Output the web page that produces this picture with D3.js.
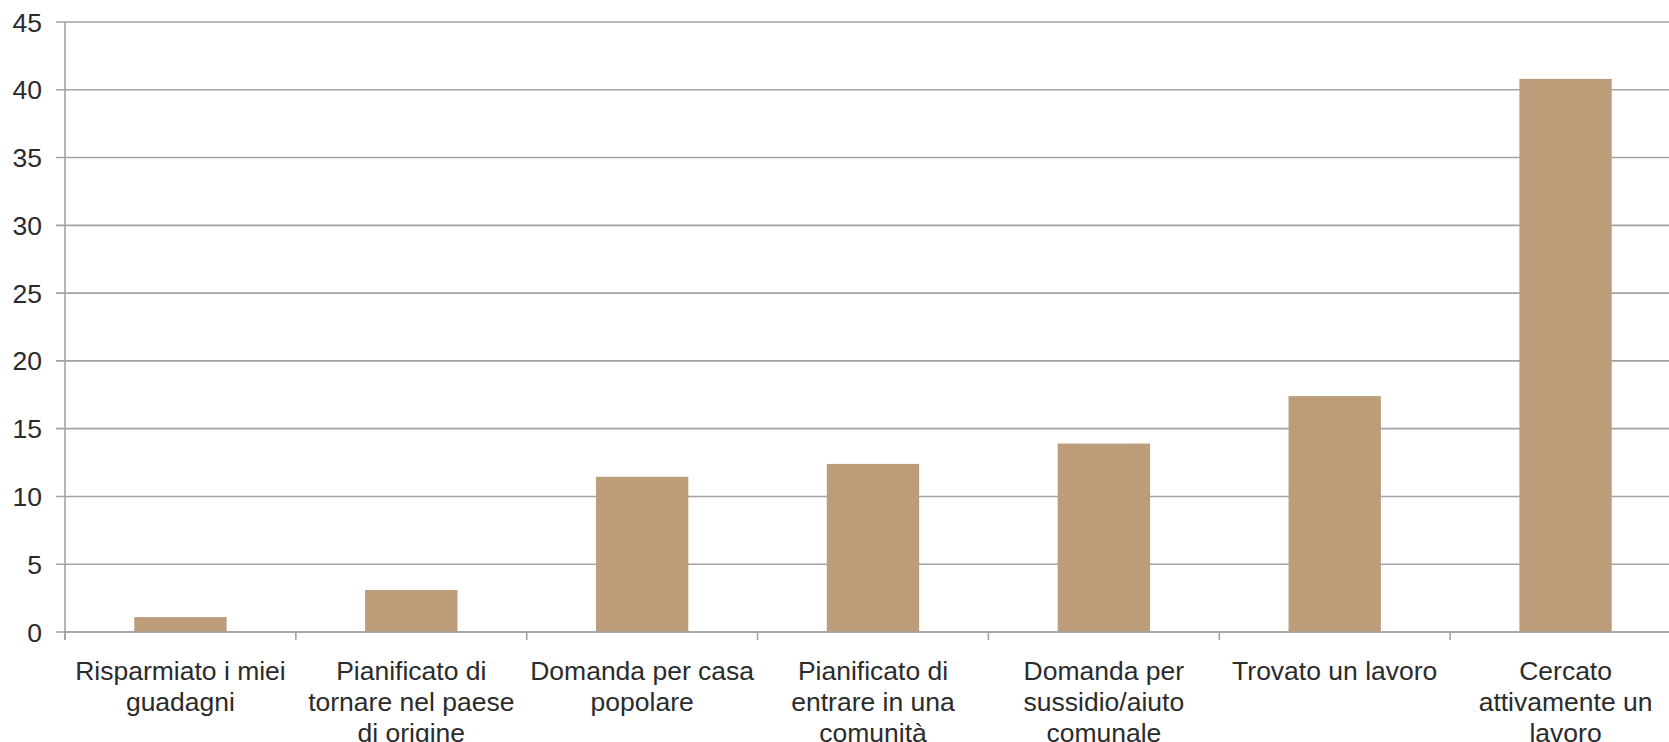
<!DOCTYPE html>
<html>
<head>
<meta charset="utf-8">
<script src="https://cdn.jsdelivr.net/npm/d3@7"></script>
<style>
  html, body { margin: 0; padding: 0; background: #fff; overflow: hidden; }
  svg { display: block; }
  text { font-family: "Liberation Sans", Arial, sans-serif; fill: #2b2b2b; }
</style>
</head>
<body>
<svg id="chart" width="1669" height="742"></svg>
<script>
const categories = [
  "Risparmiato i miei\nguadagni",
  "Pianificato di\ntornare nel paese\ndi origine",
  "Domanda per casa\npopolare",
  "Pianificato di\nentrare in una\ncomunità",
  "Domanda per\nsussidio/aiuto\ncomunale",
  "Trovato un lavoro",
  "Cercato\nattivamente un\nlavoro"
];
const values = [1.1, 3.1, 11.45, 12.4, 13.9, 17.4, 40.8];
const yTicks = [0, 5, 10, 15, 20, 25, 30, 35, 40, 45];

const svg = d3.select("#chart");
const plotLeft = 65, plotRight = 1681, plotTop = 22, plotBottom = 632;
const barColor = "#bc9c79";
const gridColor = "#a3a3a3";
const fontSize = 26.5;

const x = d3.scaleBand().domain(d3.range(categories.length))
  .range([plotLeft, plotRight]).paddingInner(0.6).paddingOuter(0.3);
const y = d3.scaleLinear().domain([0, 45]).range([plotBottom, plotTop]);

// gridlines
svg.append("g").selectAll("line").data(yTicks).join("line")
  .attr("x1", plotLeft - 9).attr("x2", plotRight)
  .attr("y1", d => y(d)).attr("y2", d => y(d))
  .attr("stroke", gridColor).attr("stroke-width", 1.6);

// y axis line
svg.append("line").attr("x1", plotLeft).attr("x2", plotLeft)
  .attr("y1", y(45)).attr("y2", y(0) + 8)
  .attr("stroke", gridColor).attr("stroke-width", 1.6);

// y tick labels
svg.append("g").selectAll("text").data(yTicks).join("text")
  .attr("x", 42).attr("y", d => y(d))
  .attr("dy", "0.36em")
  .attr("text-anchor", "end")
  .attr("font-size", fontSize)
  .text(d => d);

// x ticks at band boundaries
const step = x.step();
const xBounds = d3.range(categories.length + 1).map(i => x(0) - step * x.paddingOuter() + i * step);
svg.append("g").selectAll("line").data(xBounds).join("line")
  .attr("x1", d => d).attr("x2", d => d)
  .attr("y1", y(0)).attr("y2", y(0) + 8)
  .attr("stroke", gridColor).attr("stroke-width", 1.6);

// bars
svg.append("g").selectAll("rect").data(values).join("rect")
  .attr("x", (d, i) => x(i))
  .attr("width", x.bandwidth())
  .attr("y", d => y(d))
  .attr("height", d => y(0) - y(d))
  .attr("fill", barColor);

// redraw baseline over bars
svg.append("line").attr("x1", plotLeft).attr("x2", plotRight)
  .attr("y1", y(0)).attr("y2", y(0))
  .attr("stroke", gridColor).attr("stroke-width", 1.6);

// x labels
const lab = svg.append("g").selectAll("text").data(categories).join("text")
  .attr("text-anchor", "middle")
  .attr("font-size", fontSize)
  .attr("transform", (d, i) => `translate(${x(i) + x.bandwidth() / 2},${y(0) + 48})`);
lab.selectAll("tspan").data(d => d.split("\n")).join("tspan")
  .attr("x", 0).attr("y", (d, j) => j * 31)
  .text(d => d);
</script>
</body>
</html>
